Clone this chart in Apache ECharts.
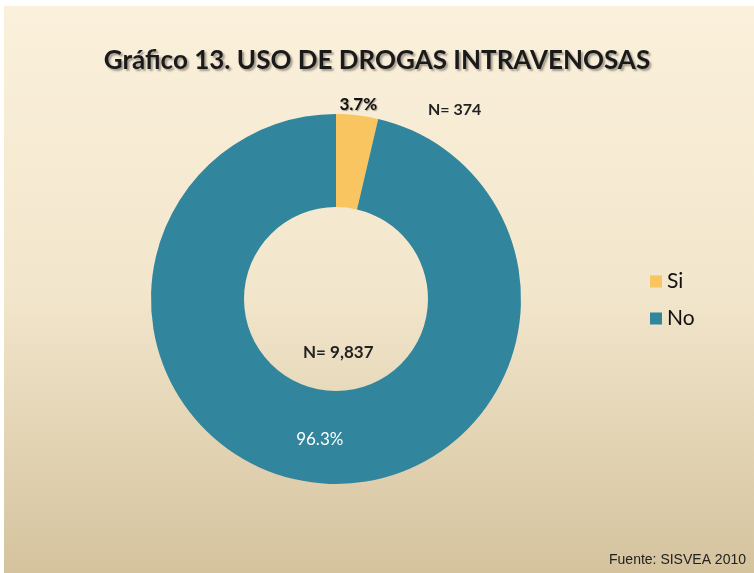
<!DOCTYPE html>
<html>
<head>
<meta charset="utf-8">
<script src="https://cdn.jsdelivr.net/npm/echarts@6/dist/echarts.min.js"></script>
<style>
  html, body { margin: 0; padding: 0; background: #fff; }
  #chart { width: 754px; height: 573px; }
</style>
</head>
<body>
<div id="chart"></div>
<script>
// datos
var categorias = ['Si', 'No'];
var valores = [374, 9837];
var porcentajes = ['3.7%', '96.3%'];
var colores = ['#F9C560', '#31859C'];

var chart = echarts.init(document.getElementById('chart'));

var datos = categorias.map(function (c, i) {
    return { name: c, value: valores[i], itemStyle: { color: colores[i] } };
});
// etiqueta del 3.7% arriba de la rebanada
datos[0].label = {
    position: 'inside',
    offset: [6, -54],
    color: '#111',
    fontWeight: 'bold',
    fontSize: 17,
    textShadowColor: 'rgba(0,0,0,0.35)',
    textShadowBlur: 1,
    textShadowOffsetX: 1,
    textShadowOffsetY: 1
};

var option = {
    animation: false,
    graphic: [
        {   // fondo degradado
            type: 'rect',
            shape: { x: 4, y: 6, width: 750, height: 567 },
            style: {
                fill: new echarts.graphic.LinearGradient(0, 0, 0, 1, [
                    { offset: 0, color: '#FBF0DB' },
                    { offset: 0.5, color: '#F2E6CC' },
                    { offset: 1, color: '#D5C39E' }
                ])
            },
            z: -10
        },
        {
            type: 'text',
            left: 428, top: 102,
            style: { text: 'N= ' + valores[0], fontFamily: 'Lato', fontWeight: 'bold', fontSize: 16, fill: '#222' }
        },
        {
            type: 'text',
            left: 303, top: 344,
            style: { text: 'N= ' + valores[1].toLocaleString('en-US'), fontFamily: 'Lato', fontWeight: 'bold', fontSize: 17, fill: '#222' }
        },
        {
            type: 'text',
            right: 8, top: 553,
            style: { text: 'Fuente: SISVEA 2010', fontFamily: 'Liberation Sans', fontSize: 14, fill: '#222' }
        }
    ],
    title: {
        text: 'Gráfico 13. USO DE DROGAS INTRAVENOSAS',
        left: 'center',
        top: 43,
        textStyle: {
            fontFamily: 'Lato',
            fontWeight: 'bold',
            fontSize: 26,
            color: '#1a1a1a',
            textShadowColor: 'rgba(0,0,0,0.35)',
            textShadowBlur: 2,
            textShadowOffsetX: 2,
            textShadowOffsetY: 2
        }
    },
    legend: {
        orient: 'vertical',
        left: 645,
        top: 266,
        icon: 'rect',
        itemWidth: 12,
        itemHeight: 12,
        itemGap: 16,
        textStyle: { fontFamily: 'Lato', fontSize: 21, color: '#111' },
        data: categorias
    },
    series: [
        {
            type: 'pie',
            center: [336, 299],
            radius: [92, 185],
            startAngle: 90,
            clockwise: true,
            silent: true,
            label: {
                show: true,
                position: 'inside',
                formatter: function (p) { return porcentajes[p.dataIndex]; },
                fontFamily: 'Lato',
                fontSize: 17,
                color: '#fff'
            },
            labelLine: { show: false },
            data: datos
        }
    ]
};

chart.setOption(option);
</script>
</body>
</html>
